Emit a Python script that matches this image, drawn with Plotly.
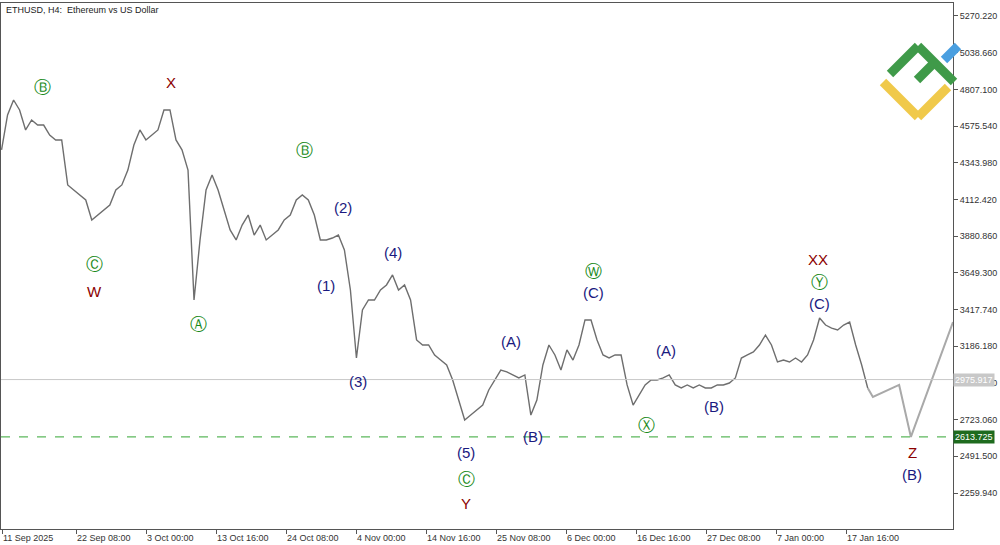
import pandas as pd
import plotly.graph_objects as go

# ---------------------------------------------------------------- data
# ETHUSD price, one sample every 22 hours from 11 Sep 2025
closes = [
    4425, 4646, 4740, 4677, 4551, 4614, 4582, 4582, 4519, 4488,
    4488, 4204, 4172, 4141, 4109, 3983, 4014, 4046, 4077, 4172,
    4204, 4298, 4456, 4551, 4488, 4519, 4551, 4677, 4677, 4488,
    4425, 4298, 3478, 3857, 4172, 4267, 4172, 4046, 3920, 3857,
    3951, 4014, 3888, 3951, 3857, 3888, 3920, 3983, 4014, 4109,
    4141, 4109, 4014, 3857, 3857, 3869, 3888, 3794, 3541, 3112,
    3415, 3478, 3478, 3541, 3573, 3636, 3541, 3573, 3478, 3226,
    3194, 3194, 3131, 3099, 3068, 2973, 2847, 2721, 2752, 2784,
    2815, 2910, 2973, 3036, 3024, 3005, 2986, 3005, 2752, 2847,
    3068, 3194, 3131, 3036, 3163, 3099, 3194, 3352, 3352, 3226,
    3131, 3112, 3131, 3131, 2942, 2815, 2879, 2942, 2973, 2973,
    2986, 3005, 2942, 2923, 2942, 2923, 2942, 2923, 2923, 2942,
    2942, 2954, 2986, 3112, 3131, 3150, 3194, 3257, 3194, 3087,
    3099, 3087, 3112, 3087, 3131, 3226, 3364, 3320, 3301, 3289,
    3320, 3339, 3194, 3068, 2923,
]
start_time = "2025-09-10 22:00"

# projected path (starts at the last close)
proj_time = ["2026-01-21 17:00", "2026-01-25 17:00", "2026-01-27 12:00", "2026-02-02 22:00"]
proj_price = [2866, 2942, 2614, 3339]

current_price = 2975.917
target_price = 2613.725

y_ticks = [2259.940, 2491.500, 2723.060, 2954.620, 3186.180, 3417.740, 3649.300, 3880.860,
           4112.420, 4343.980, 4575.540, 4807.100, 5038.660, 5270.220]
x_tick_times = ["2025-09-11 00:00", "2025-09-22 08:00", "2025-10-03 00:00", "2025-10-13 16:00",
                "2025-10-24 08:00", "2025-11-04 00:00", "2025-11-14 16:00", "2025-11-25 08:00",
                "2025-12-06 00:00", "2025-12-16 16:00", "2025-12-27 08:00", "2026-01-07 00:00",
                "2026-01-17 16:00"]
x_tick_text = ["11 Sep 2025", "22 Sep 08:00", "3 Oct 00:00", "13 Oct 16:00", "24 Oct 08:00",
               "4 Nov 00:00", "14 Nov 16:00", "25 Nov 08:00", "6 Dec 00:00", "16 Dec 16:00",
               "27 Dec 08:00", "7 Jan 00:00", "17 Jan 16:00"]

# wave labels: (text, color, x px, y px)
GREEN, RED, NAVY = "#1a8a1a", "#8b0000", "#1a1a80"
labels = [
    ("Ⓑ", GREEN, 42, 87), ("X", RED, 171, 83), ("Ⓒ", GREEN, 94, 264), ("W", RED, 94, 291),
    ("Ⓐ", GREEN, 198, 324), ("Ⓑ", GREEN, 304, 150), ("(2)", NAVY, 343, 207), ("(1)", NAVY, 326, 285),
    ("(3)", NAVY, 358, 381), ("(4)", NAVY, 393, 252), ("(5)", NAVY, 466, 452), ("Ⓒ", GREEN, 466, 479),
    ("Y", RED, 466, 503), ("(A)", NAVY, 511, 341), ("(B)", NAVY, 533, 436), ("Ⓦ", GREEN, 593, 271),
    ("(C)", NAVY, 593, 293), ("(A)", NAVY, 666, 350), ("Ⓧ", GREEN, 646, 425), ("(B)", NAVY, 714, 406),
    ("XX", RED, 818, 259), ("Ⓨ", GREEN, 819, 282), ("(C)", NAVY, 819, 303), ("Z", RED, 912, 452),
    ("(B)", NAVY, 912, 474),
]

# ---------------------------------------------------------------- figure
times = pd.date_range(start=start_time, periods=len(closes), freq="22h")
proj_x = [times[-1]] + [pd.Timestamp(t) for t in proj_time]
proj_y = [closes[-1]] + proj_price

fig = go.Figure()
fig.add_trace(go.Scatter(x=times, y=closes, mode="lines",
                         line=dict(color="#6e6e6e", width=1.4), hoverinfo="skip"))
fig.add_trace(go.Scatter(x=proj_x, y=proj_y, mode="lines",
                         line=dict(color="#a9a9a9", width=2), hoverinfo="skip"))

fig.add_hline(y=current_price, line_color="#c8c8c8", line_width=1)
fig.add_hline(y=target_price, line_color="#5cb85c", line_width=1.2, line_dash="dash")

L, R, T, B, W, H = 1, 47, 3, 16, 1000, 545
pw, ph = W - L - R, H - T - B


def px(x, y):
    return (x - L) / pw, (H - B - y) / ph


for text, color, x, y in labels:
    xp, yp = px(x, y)
    circled = text in "ⒶⒷⒸⓌⓍⓎ"
    fig.add_annotation(xref="paper", yref="paper", x=xp, y=yp, xanchor="center", yanchor="middle",
                       text=text, showarrow=False,
                       font=dict(color=color, size=17 if circled else 15,
                                 family="DejaVu Sans" if circled else "Liberation Sans"))

fig.add_annotation(xref="paper", yref="paper", x=0.003, y=1.0, xanchor="left", yanchor="top",
                   text="ETHUSD, H4:  Ethereum vs US Dollar", showarrow=False,
                   font=dict(size=9, color="#222", family="Liberation Sans"))
# date labels start at their tick, like the terminal draws them
for t, lab in zip(x_tick_times, x_tick_text):
    fig.add_annotation(xref="x", yref="paper", x=pd.Timestamp(t), y=0, xanchor="left",
                       yanchor="top", xshift=-1, yshift=-2, text=lab, showarrow=False,
                       font=dict(size=9, color="#333", family="Liberation Sans"))
for price, bg in [(current_price, "#c8c8c8"), (target_price, "#1e6b1e")]:
    fig.add_annotation(xref="paper", yref="y", x=1.0, y=price, xanchor="left", text=f"{price:.3f}",
                       showarrow=False, bgcolor=bg, borderpad=1,
                       font=dict(size=9, color="#ffffff", family="Liberation Sans"))

# logo
for (x0, y0, x1, y1), color in [
    ((883, 82, 918, 117), "#f0c94a"), ((918, 117, 948, 87), "#f0c94a"),
    ((944, 60, 958, 46), "#4a9fe0"),
    ((890, 74, 918, 46), "#3f9a49"), ((918, 46, 954, 82), "#3f9a49"),
    ((917, 80, 937, 60), "#3f9a49"),
]:
    a0, b0 = px(x0, y0)
    a1, b1 = px(x1, y1)
    fig.add_shape(type="line", xref="paper", yref="paper", x0=a0, y0=b0, x1=a1, y1=b1,
                  line=dict(color=color, width=9))

fig.update_layout(
    width=W, height=H, margin=dict(l=L, r=R, t=T, b=B),
    plot_bgcolor="white", paper_bgcolor="white", showlegend=False,
    font=dict(family="Liberation Sans", size=9, color="#333"),
)
fig.update_xaxes(range=[pd.Timestamp("2025-09-10 20:00"), pd.Timestamp("2026-02-02 22:00")],
                 tickvals=[pd.Timestamp(t) for t in x_tick_times], showticklabels=False,
                 ticks="outside", ticklen=4, tickcolor="#555", showgrid=False,
                 showline=True, linecolor="#555", mirror=True, zeroline=False)
fig.update_yaxes(range=[2033, 5352], side="right", tickvals=y_ticks,
                 ticktext=[f"{v:.3f}" for v in y_ticks], ticks="outside", ticklen=4,
                 tickcolor="#555", showgrid=False, showline=True, linecolor="#555",
                 mirror=True, zeroline=False)

fig.write_html("out.html", config={"displayModeBar": False},
               post_script="document.body.style.margin='0';")
